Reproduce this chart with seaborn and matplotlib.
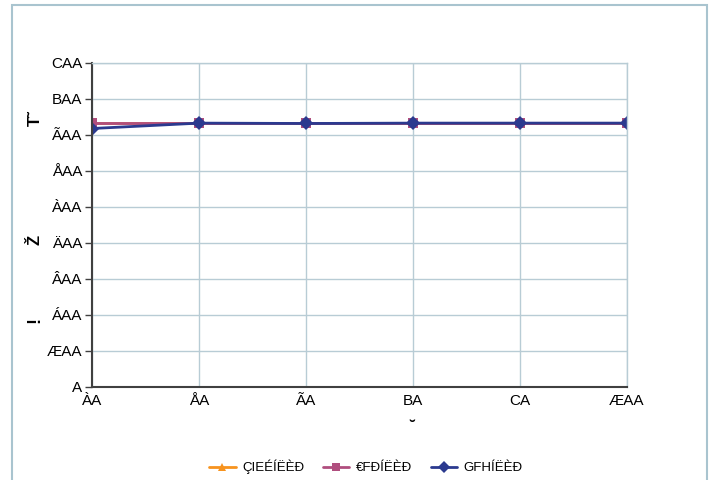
import pandas as pd
import numpy as np
import matplotlib.pyplot as plt
import seaborn as sns
from matplotlib.patches import Rectangle

x_vals = [50, 60, 70, 80, 90, 100]
orange_vals = [733, 733, 733, 733, 733, 733]
pink_vals = [733, 733, 733, 733, 733, 733]
blue_vals = [718, 733, 732, 733, 733, 733]
series_names = ['ÇIEÉÍËÈÐ', '€FÐÍËÈÐ', 'GFHÍËÈÐ']
y_ticks = [0, 100, 200, 300, 400, 500, 600, 700, 800, 900]
y_tick_labels = ['A', 'ÆAA', 'ÁAA', 'ÂAA', 'ÄAA', 'ÀAA', 'ÅAA', 'ÃAA', 'BAA', 'CAA']
x_tick_labels = ['ÀA', 'ÅA', 'ÃA', 'BA', 'CA', 'ÆAA']

df = pd.DataFrame({
    'x': x_vals * 3,
    'y': orange_vals + pink_vals + blue_vals,
    'series': [series_names[0]] * 6 + [series_names[1]] * 6 + [series_names[2]] * 6,
})

sns.set_style('white')
plt.rcParams['font.family'] = ['Liberation Sans', 'DejaVu Sans']
plt.rcParams['text.color'] = 'black'
plt.rcParams['xtick.color'] = 'black'
plt.rcParams['ytick.color'] = 'black'

fig = plt.figure(figsize=(7.11, 4.8), dpi=100)
ax = fig.add_axes([92 / 711, 1 - 387 / 480, (627 - 92) / 711, (387 - 63) / 480])

colors = ['#F7931E', '#B04E7E', '#2B3A8F']
sns.lineplot(data=df, x='x', y='y', hue='series', style='series',
             palette=colors, markers=['^', 's', 'D'], dashes=False,
             linewidth=2, markersize=7, markeredgewidth=0, ax=ax, legend=False)

grid_c = '#B8CCD5'
ax.set_xlim(50, 100)
ax.set_ylim(0, 900)
ax.set_yticks(y_ticks)
ax.set_yticklabels(y_tick_labels)
ax.set_xticks(x_vals)
ax.set_xticklabels(x_tick_labels)
ax.grid(True, color=grid_c, linewidth=1)
ax.set_axisbelow(True)
ax.set_xlabel('')
ax.set_ylabel('')
for s in ['top', 'right']:
    ax.spines[s].set_color(grid_c)
    ax.spines[s].set_linewidth(1)
for s in ['left', 'bottom']:
    ax.spines[s].set_color('#404040')
    ax.spines[s].set_linewidth(1.5)
ax.tick_params(axis='y', length=5, width=1, color='#404040', labelcolor='black', labelsize=11, pad=2, left=True)
ax.tick_params(axis='x', length=0, labelcolor='black', labelsize=11, pad=5)

# y label pieces (rotated)
fig.text(35 / 711, 1 - 118 / 480, 'T˜', rotation=90, ha='center', va='center', fontsize=12, fontweight='bold')
fig.text(35 / 711, 1 - 240 / 480, 'Ž', rotation=90, ha='center', va='center', fontsize=12, fontweight='bold')
fig.text(35 / 711, 1 - 320 / 480, '!', rotation=90, ha='center', va='center', fontsize=13, fontweight='bold')
fig.text(412 / 711, 1 - 428 / 480, '˘', ha='center', va='center', fontsize=12, fontweight='bold')

handles = [plt.Line2D([], [], color=c, marker=m, linewidth=2, markersize=6, markeredgewidth=0)
           for c, m in zip(colors, ['^', 's', 'D'])]
fig.legend(handles, series_names, loc='center', bbox_to_anchor=(366 / 711, 1 - 467 / 480),
           ncol=3, frameon=False, fontsize=9.5, handlelength=2.0, columnspacing=1.4, handletextpad=0.5)

fig.patches.append(Rectangle((12 / 711, -0.1), (707 - 12) / 711, 1.1 - 5 / 480,
                             transform=fig.transFigure, fill=False, edgecolor='#A9C4CF', linewidth=1.5))

fig.savefig('out.png', dpi=100)
